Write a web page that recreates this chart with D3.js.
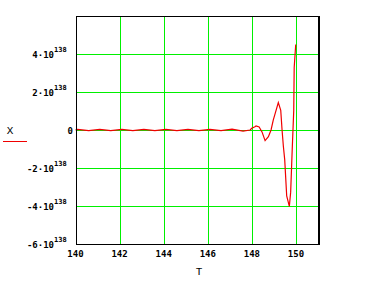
<!DOCTYPE html>
<html>
<head>
<meta charset="utf-8">
<script src="https://cdn.jsdelivr.net/npm/d3@7"></script>
<style>
  html, body { margin: 0; padding: 0; background: #fff; }
  svg { display: block; }
</style>
</head>
<body>
<div id="chart"></div>
<script>
// trace X(T), values in units of 10^138
const tValues = [
  140, 140.1, 140.6, 141.1, 141.6, 142.1, 142.6, 143.1, 143.6, 144.1, 144.6,
  145.1, 145.6, 146.1, 146.6, 147.1, 147.6, 147.92, 147.995, 148.14, 148.19,
  148.33, 148.46, 148.6, 148.75, 148.87, 148.97, 149.2, 149.31, 149.37, 149.43,
  149.49, 149.58, 149.7, 149.76, 149.83, 149.9, 149.92, 149.99
];
const xValues = [
  0, 0.03, -0.03, 0.03, -0.03, 0.03, -0.03, 0.03, -0.03, 0.03, -0.03,
  0.03, -0.03, 0.03, -0.03, 0.05, -0.06, 0, 0.09, 0.17, 0.21,
  0.16, -0.1, -0.56, -0.35, 0, 0.52, 1.44, 1.04, 0, -0.87,
  -1.56, -3.47, -4.02, -3.27, -1.04, 1.04, 3.29, 4.5
];

const xTicks = [140, 142, 144, 146, 148, 150];
const yTicks = [4, 2, 0, -2, -4, -6];
const yExponent = "138";
const xLabel = "T";
const yLabel = "X";

const width = 380, height = 284;
const plotLeft = 75.5, plotRight = 318, plotTop = 16, plotBottom = 244;

const svg = d3.select("#chart").append("svg")
  .attr("width", width)
  .attr("height", height);

const x = d3.scaleLinear().domain([140, 151]).range([plotLeft, plotRight]);
const y = d3.scaleLinear().domain([-6, 6]).range([plotBottom, plotTop]);

const gridColor = "#00f000";

// grid lines
svg.append("g")
  .selectAll("line")
  .data(xTicks.filter(d => d > 140))
  .enter().append("line")
  .attr("x1", d => Math.round(x(d)) + 0.5)
  .attr("x2", d => Math.round(x(d)) + 0.5)
  .attr("y1", plotTop).attr("y2", plotBottom)
  .attr("stroke", gridColor)
  .attr("shape-rendering", "crispEdges");

svg.append("g")
  .selectAll("line")
  .data(yTicks.filter(d => d > -6))
  .enter().append("line")
  .attr("x1", plotLeft).attr("x2", plotRight)
  .attr("y1", d => Math.round(y(d)) + 0.5)
  .attr("y2", d => Math.round(y(d)) + 0.5)
  .attr("stroke", gridColor)
  .attr("shape-rendering", "crispEdges");

// trace
const line = d3.line()
  .x((d, i) => x(tValues[i]))
  .y(d => y(d));

svg.append("path")
  .datum(xValues)
  .attr("d", line)
  .attr("fill", "none")
  .attr("stroke", "#f00000")
  .attr("stroke-width", 1.2);

// frame
svg.append("rect")
  .attr("x", 76.5).attr("y", plotTop + 0.5)
  .attr("width", 242).attr("height", plotBottom - plotTop)
  .attr("fill", "none")
  .attr("stroke", "#000")
  .attr("shape-rendering", "crispEdges");
svg.append("line")
  .attr("x1", 319.5).attr("x2", 319.5)
  .attr("y1", plotTop).attr("y2", plotBottom + 1)
  .attr("stroke", "#000")
  .attr("shape-rendering", "crispEdges");

const font = "'DejaVu Sans Mono', monospace";

// y tick labels
const yLab = svg.append("g")
  .selectAll("g")
  .data(yTicks)
  .enter().append("g");

yLab.append("text")
  .attr("x", d => d === 0 ? 73 : 54)
  .attr("y", d => y(d) + 4)
  .attr("text-anchor", "end")
  .attr("font-family", font)
  .attr("font-size", "9px")
  .attr("font-weight", "bold")
  .attr("fill", "#000")
  .text(d => d === 0 ? "0" : (d < 0 ? "-" + (-d) : d) + "·10");

yLab.filter(d => d !== 0).append("text")
  .attr("x", 54)
  .attr("y", d => y(d) - 2)
  .attr("font-family", font)
  .attr("font-size", "7px")
  .attr("font-weight", "bold")
  .attr("fill", "#000")
  .text(yExponent);

// x tick labels
svg.append("g")
  .selectAll("text")
  .data(xTicks)
  .enter().append("text")
  .attr("x", d => x(d))
  .attr("y", 257)
  .attr("text-anchor", "middle")
  .attr("font-family", font)
  .attr("font-size", "9px")
  .attr("font-weight", "bold")
  .attr("fill", "#000")
  .text(d => d);

// axis labels
svg.append("text")
  .attr("x", 199).attr("y", 275)
  .attr("text-anchor", "middle")
  .attr("font-family", "'Liberation Mono', monospace")
  .attr("font-size", "11px")
  .attr("fill", "#000")
  .text(xLabel);

svg.append("text")
  .attr("x", 10).attr("y", 134)
  .attr("text-anchor", "middle")
  .attr("font-family", "'Liberation Mono', monospace")
  .attr("font-size", "11px")
  .attr("fill", "#000")
  .text(yLabel);

// trace legend line under the y label
svg.append("line")
  .attr("x1", 3).attr("x2", 27)
  .attr("y1", 141.5).attr("y2", 141.5)
  .attr("stroke", "#f00000")
  .attr("shape-rendering", "crispEdges");
</script>
</body>
</html>
